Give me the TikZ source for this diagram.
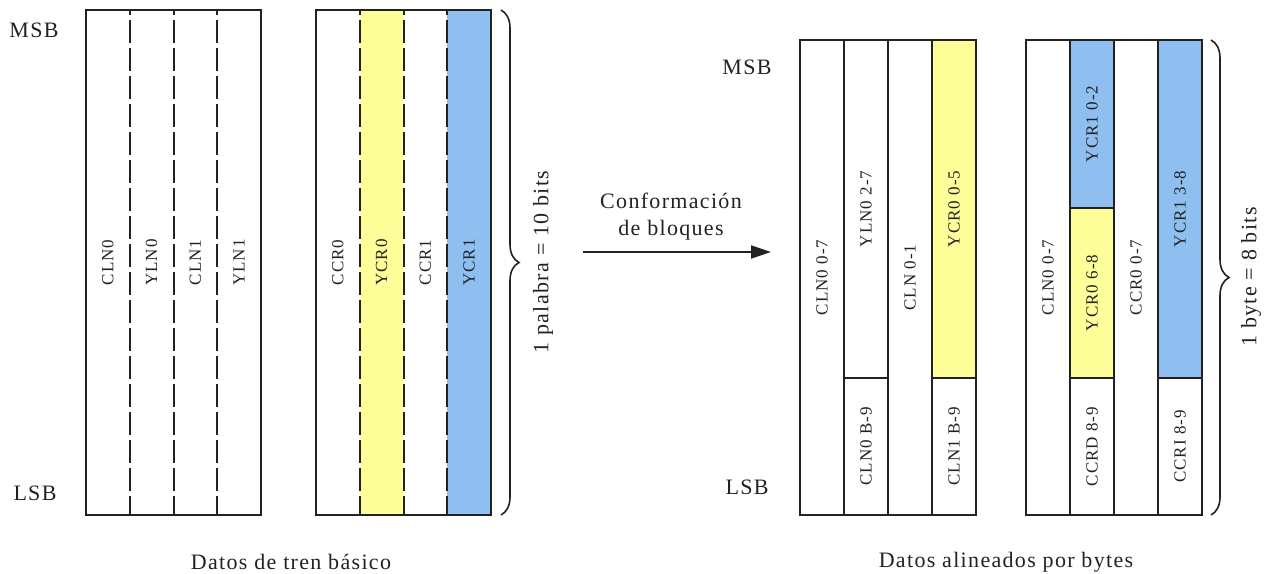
\documentclass[tikz,border=0pt]{standalone}
\usepackage{fontspec}
\setmainfont{Liberation Serif}[LetterSpace=6]
\usetikzlibrary{arrows.meta,decorations.pathreplacing}
\definecolor{lineC}{HTML}{222222}
\definecolor{yelC}{HTML}{FFFF99}
\definecolor{bluC}{HTML}{8EBFF0}
\tikzset{
  bigtxt/.style={font=\fontsize{22}{27}\selectfont, text=lineC, inner sep=0pt},
  coltxt/.style={font=\fontsize{17}{20}\selectfont, text=lineC, inner sep=0pt, rotate=90},
  cellL/.style={inner sep=0pt, minimum width=43.75pt, minimum height=505pt},
  cellR/.style={draw=lineC, line width=2pt, inner sep=0pt, minimum width=44pt},
  frame/.style={draw=lineC, line width=2.2pt},
  divider/.style={draw=lineC, line width=2pt, dash pattern=on 23pt off 5pt, dash phase=18pt},
  bracestyle/.style={draw=lineC, line width=1.6pt, decorate, decoration={brace, amplitude=18pt}},
  arrowstyle/.style={draw=lineC, line width=2pt, -{Triangle[length=20pt,width=13pt]}},
}
\begin{document}
\begin{tikzpicture}[x=1pt,y=-1pt]
\useasboundingbox (0,0) rectangle (1271,573);
% ---------- left: basic stream ----------
\node[cellL] (a1) at (107.875,262.5) {};
\node[cellL] (a2) at (151.625,262.5) {};
\node[cellL] (a3) at (195.375,262.5) {};
\node[cellL] (a4) at (239.125,262.5) {};
\draw[divider] (a1.north east) -- (a1.south east);
\draw[divider] (a2.north east) -- (a2.south east);
\draw[divider] (a3.north east) -- (a3.south east);
\draw[frame] (a1.north west) rectangle (a4.south east);
\node[coltxt] (ta1) at (a1.center) {CLN0};
\node[coltxt] (ta2) at (a2.center) {YLN0};
\node[coltxt] (ta3) at (a3.center) {CLN1};
\node[coltxt] (ta4) at (a4.center) {YLN1};

\node[cellL] (b1) at (337.875,262.5) {};
\node[cellL, fill=yelC] (b2) at (381.625,262.5) {};
\node[cellL] (b3) at (425.375,262.5) {};
\node[cellL, fill=bluC] (b4) at (469.125,262.5) {};
\draw[divider] (b1.north east) -- (b1.south east);
\draw[divider] (b2.north east) -- (b2.south east);
\draw[divider] (b3.north east) -- (b3.south east);
\draw[frame] (b1.north west) rectangle (b4.south east);
\node[coltxt] (tb1) at (b1.center) {CCR0};
\node[coltxt] (tb2) at (b2.center) {YCR0};
\node[coltxt] (tb3) at (b3.center) {CCR1};
\node[coltxt] (tb4) at (b4.center) {YCR1};

\node[bigtxt] (msbL) at (34,30) {MSB};
\node[bigtxt] (lsbL) at (35,493) {LSB};
\coordinate (brLt) at (501,10);
\coordinate (brLb) at (501,515);
\draw[bracestyle] (brLt) -- (brLb);
\node[bigtxt, rotate=90] (palabra) at (543,262) {1 palabra = 10 bits};
\node[bigtxt] (capL) at (291,562) {Datos de tren básico};

% ---------- arrow ----------
\coordinate (arS) at (583,252);
\coordinate (arE) at (771,252);
\draw[arrowstyle] (arS) -- (arE);
\node[bigtxt, align=center] (conf) at (671,216.5) {Conformación\\de bloques};

% ---------- right: byte-aligned ----------
\node[cellR, minimum height=475pt] (c1) at (822,277.5) {};
\node[cellR, minimum height=338pt] (c2t) at (866,209) {};
\node[cellR, minimum height=137pt] (c2b) at (866,446.5) {};
\node[cellR, minimum height=475pt] (c3) at (910,277.5) {};
\node[cellR, minimum height=338pt, fill=yelC] (c4t) at (954,209) {};
\node[cellR, minimum height=137pt] (c4b) at (954,446.5) {};
\node[coltxt] (tc1) at (c1.center) {CLN0 0-7};
\node[coltxt] (tc2t) at (c2t.center) {YLN0 2-7};
\node[coltxt] (tc2b) at (c2b.center) {CLN0 B-9};
\node[coltxt] (tc3) at (c3.center) {CLN 0-1};
\node[coltxt] (tc4t) at (c4t.center) {YCR0 0-5};
\node[coltxt] (tc4b) at (c4b.center) {CLN1 B-9};

\node[cellR, minimum height=475pt] (d1) at (1048,277.5) {};
\node[cellR, minimum height=168pt, fill=bluC] (d2t) at (1092,124) {};
\node[cellR, minimum height=170pt, fill=yelC] (d2m) at (1092,293) {};
\node[cellR, minimum height=137pt] (d2b) at (1092,446.5) {};
\node[cellR, minimum height=475pt] (d3) at (1136,277.5) {};
\node[cellR, minimum height=338pt, fill=bluC] (d4t) at (1180,209) {};
\node[cellR, minimum height=137pt] (d4b) at (1180,446.5) {};
\node[coltxt] (td1) at (d1.center) {CLN0 0-7};
\node[coltxt] (td2t) at (d2t.center) {YCR1 0-2};
\node[coltxt] (td2m) at (d2m.center) {YCR0 6-8};
\node[coltxt] (td2b) at (d2b.center) {CCRD 8-9};
\node[coltxt] (td3) at (d3.center) {CCR0 0-7};
\node[coltxt] (td4t) at (d4t.center) {YCR1 3-8};
\node[coltxt] (td4b) at (d4b.center) {CCRI 8-9};

\node[bigtxt] (msbR) at (747,67) {MSB};
\node[bigtxt] (lsbR) at (747,487) {LSB};
\coordinate (brRt) at (1211,40);
\coordinate (brRb) at (1211,515);
\draw[bracestyle] (brRt) -- (brRb);
\node[bigtxt, rotate=90] (byte) at (1251,277) {1 byte = 8 bits};
\node[bigtxt] (capR) at (1006,562) {Datos alineados por bytes};
\end{tikzpicture}
\end{document}
